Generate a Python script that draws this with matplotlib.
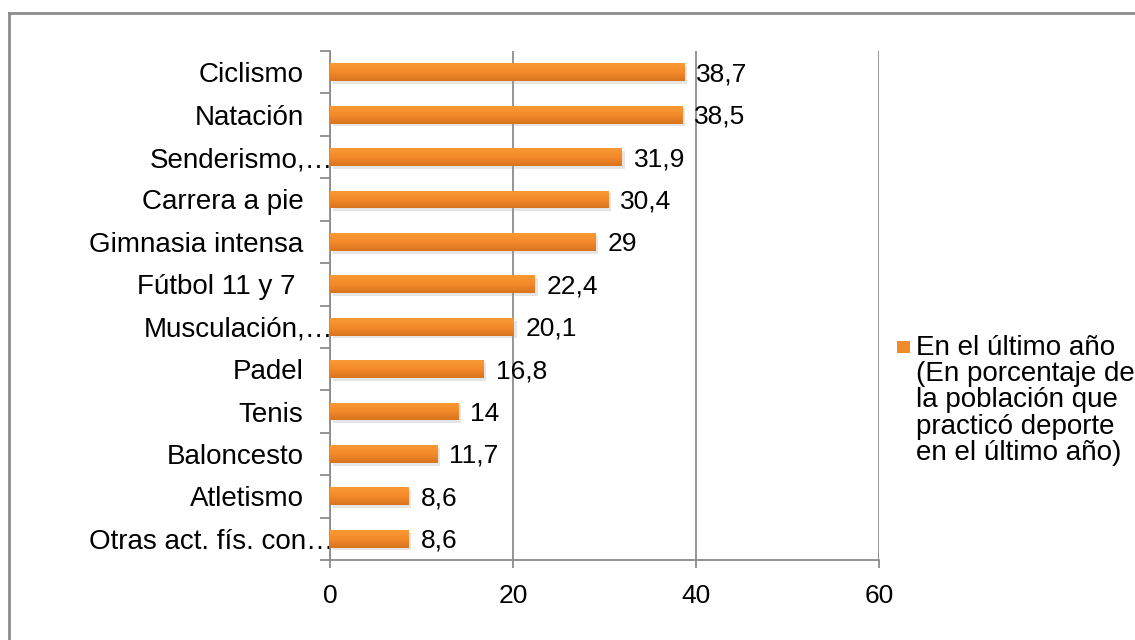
import numpy as np
import matplotlib.pyplot as plt
from matplotlib.colors import LinearSegmentedColormap
from matplotlib.patches import Rectangle
from matplotlib.lines import Line2D
from matplotlib.patheffects import SimplePatchShadow, Normal
from matplotlib.transforms import offset_copy

plt.rcParams['font.family'] = ['Liberation Sans', 'DejaVu Sans']

# datos
categorias = ["Ciclismo", "Natación", "Senderismo,…", "Carrera a pie",
              "Gimnasia intensa", "Fútbol 11 y 7 ", "Musculación,…", "Padel",
              "Tenis", "Baloncesto", "Atletismo", "Otras act. fís. con…"]
valores = [38.7, 38.5, 31.9, 30.4, 29, 22.4, 20.1, 16.8, 14, 11.7, 8.6, 8.6]
ticks_x = [0, 20, 40, 60]
leyenda = ("En el último año\n(En porcentaje de\nla población que\n"
           "practicó deporte\nen el último año)")

W, H = 1135, 640
fs = 19
fig = plt.figure(figsize=(W / 100, H / 100), dpi=100)
ax = fig.add_axes([330 / W, 1 - 560 / H, 549 / W, 509 / H])

gris = '#8c8c8c'
cmap = LinearSegmentedColormap.from_list('nar', ['#fa9a34', '#f38a2a', '#d8741f'])
grad = np.linspace(0, 1, 64).reshape(-1, 1)

pos = np.arange(len(categorias))
bars = ax.barh(pos, valores, height=0.42, color='#f08a2a', zorder=2)
for b, v in zip(bars, valores):
    b.set_path_effects([SimplePatchShadow(offset=(2, -2), shadow_rgbFace='#999999', alpha=0.25), Normal()])
    y0 = b.get_y()
    im = ax.imshow(grad, extent=[0, v, y0 + b.get_height(), y0], aspect='auto',
                   cmap=cmap, zorder=3, interpolation='bilinear')
    im.set_clip_path(b)
    txt = f"{v:g}".replace('.', ',')
    ax.annotate(txt, (v, b.get_y() + b.get_height() / 2), xytext=(12, -2),
                textcoords='offset pixels', va='center', ha='left', fontsize=fs)

ax.set_xlim(0, 60)
ax.set_ylim(len(categorias) - 0.5, -0.5)
ax.set_xticks(ticks_x)
ax.set_yticks(pos)
ax.set_yticklabels(categorias)
ax.set_yticks(np.arange(len(categorias) + 1) - 0.5, minor=True)
ax.tick_params(axis='y', which='major', length=0, pad=19, labelsize=20)
ax.tick_params(axis='y', which='minor', length=7, width=1.3, color=gris)
ax.tick_params(axis='x', length=6, width=1.3, color=gris, pad=11, labelsize=fs)

# etiquetas recortadas llegan hasta el eje
for lab in ax.get_yticklabels():
    if lab.get_text().endswith('…'):
        lab.set_transform(offset_copy(lab.get_transform(), fig=fig, x=30, units='dots'))

ax.xaxis.grid(True, color=gris, lw=1.3)
ax.set_axisbelow(True)
for s in ['top', 'right']:
    ax.spines[s].set_visible(False)
for s in ['left', 'bottom']:
    ax.spines[s].set_color(gris)
    ax.spines[s].set_linewidth(1.3)

# leyenda manual
sq = Rectangle((897 / W, 1 - 353 / H), 13 / W, 12 / H, transform=fig.transFigure,
               facecolor='#f08a2a', edgecolor='none')
fig.add_artist(sq)
fig.text(916 / W, 1 - 335 / H, leyenda, ha='left', va='top', fontsize=20, linespacing=1.01)

# marco exterior
fig.add_artist(Line2D([8.5 / W, 1], [1 - 13 / H, 1 - 13 / H], color=gris, lw=2,
                      transform=fig.transFigure))
fig.add_artist(Line2D([8.5 / W, 8.5 / W], [0, 1 - 13 / H], color=gris, lw=2,
                      transform=fig.transFigure))

fig.savefig('out.png', dpi=100)
